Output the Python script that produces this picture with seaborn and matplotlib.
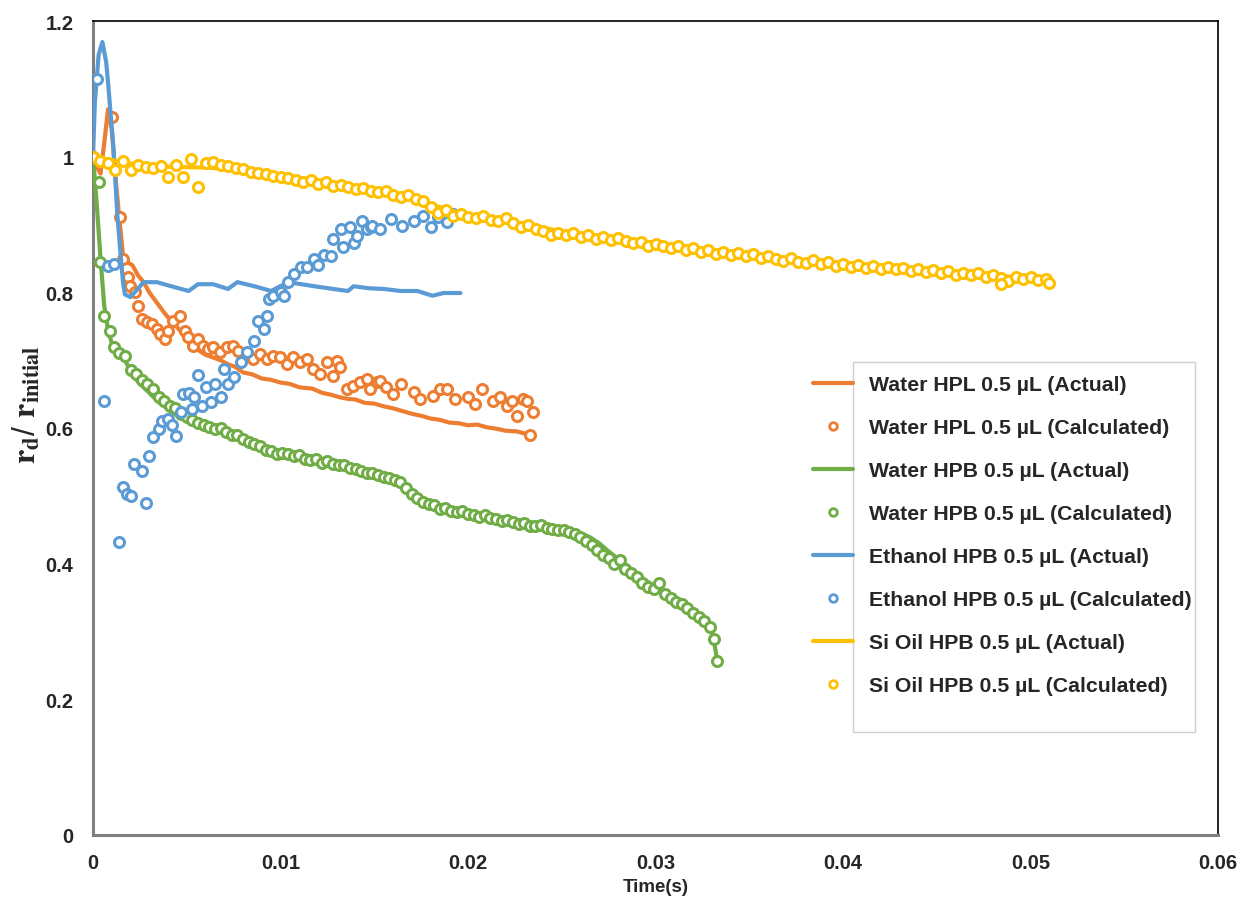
import numpy as np
import pandas as pd
import matplotlib
matplotlib.use("Agg")
import matplotlib.pyplot as plt
from matplotlib.lines import Line2D
from matplotlib.patches import Rectangle
import seaborn as sns

sns.set_style("white")
plt.rcParams["font.family"] = ["Liberation Sans", "DejaVu Sans"]
plt.rcParams["mathtext.fontset"] = "stix"

# ---------------- data ----------------
# Water HPL 0.5 uL (Actual)
hpl_act_t = [0, 0.0002, 0.0004, 0.0006, 0.0008, 0.001, 0.0012, 0.0014, 0.0016, 0.0018, 0.0021, 0.0024, 0.0027,
             0.003, 0.0034, 0.0038, 0.0041, 0.0045, 0.0049, 0.0052, 0.0056, 0.006, 0.0064, 0.0068, 0.0072,
             0.0076, 0.008, 0.0085, 0.009, 0.0095, 0.01, 0.0105, 0.011, 0.0117, 0.0122, 0.0127, 0.0132,
             0.0136, 0.014, 0.0145, 0.015, 0.0155, 0.016, 0.0165, 0.017, 0.0175, 0.018, 0.0185, 0.019,
             0.0195, 0.02, 0.0205, 0.021, 0.0215, 0.022, 0.0226, 0.023, 0.0233]
hpl_act_y = [1.0, 0.985, 0.975, 1.02, 1.07, 1.04, 0.97, 0.91, 0.855, 0.845, 0.84, 0.825, 0.815,
             0.8, 0.785, 0.77, 0.76, 0.748, 0.735, 0.722, 0.715, 0.708, 0.704, 0.7, 0.694,
             0.69, 0.682, 0.679, 0.673, 0.671, 0.667, 0.665, 0.66, 0.658, 0.652, 0.649, 0.645,
             0.643, 0.642, 0.637, 0.636, 0.632, 0.629, 0.625, 0.621, 0.618, 0.614, 0.612, 0.608,
             0.607, 0.604, 0.605, 0.601, 0.599, 0.596, 0.595, 0.592, 0.59]

# Water HPL 0.5 uL (Calculated)
hpl_calc_t = [0, 0.001, 0.00144, 0.0016, 0.00187, 0.00198, 0.00224, 0.0024, 0.00262, 0.00288, 0.00315,
              0.00342, 0.00358, 0.00384, 0.004, 0.00427, 0.00464, 0.00491, 0.00507, 0.00534, 0.0056,
              0.00587, 0.00614, 0.0064, 0.00678, 0.00715, 0.00747, 0.00774, 0.00822, 0.00854, 0.00891,
              0.00929, 0.00961, 0.00998, 0.01036, 0.01068, 0.01105, 0.01142, 0.01174, 0.01212, 0.01249,
              0.01281, 0.01303, 0.01319, 0.01356, 0.01388, 0.01425, 0.01463, 0.01479, 0.01516, 0.01532,
              0.01564, 0.016, 0.0164, 0.0171, 0.01746, 0.01815, 0.01852, 0.0189, 0.01932, 0.02, 0.02039,
              0.02077, 0.02135, 0.02173, 0.0221, 0.02237, 0.02263, 0.02295, 0.02317, 0.02349, 0.0233]
hpl_calc_y = [1.0, 1.058, 0.911, 0.849, 0.823, 0.81, 0.80, 0.78, 0.761, 0.757, 0.754,
              0.746, 0.739, 0.731, 0.743, 0.758, 0.765, 0.743, 0.734, 0.721, 0.731,
              0.721, 0.717, 0.72, 0.712, 0.72, 0.721, 0.713, 0.706, 0.702, 0.709,
              0.702, 0.706, 0.705, 0.694, 0.705, 0.697, 0.702, 0.687, 0.68, 0.697,
              0.677, 0.699, 0.69, 0.657, 0.662, 0.668, 0.672, 0.657, 0.668, 0.669,
              0.66, 0.65, 0.665, 0.653, 0.643, 0.647, 0.657, 0.657, 0.643, 0.646, 0.635,
              0.657, 0.64, 0.646, 0.632, 0.64, 0.617, 0.643, 0.64, 0.623, 0.59]

# Water HPB 0.5 uL (Actual)
hpb_act_t = [0, 0.0002, 0.0004, 0.0006, 0.0008, 0.001, 0.0013, 0.0016, 0.0019, 0.0022, 0.0025, 0.003,
             0.0035, 0.004, 0.0045, 0.005, 0.006, 0.007, 0.008, 0.009, 0.01, 0.011, 0.012, 0.013, 0.014,
             0.015, 0.016, 0.0165, 0.017, 0.0175, 0.018, 0.019, 0.02, 0.021, 0.022, 0.023, 0.024, 0.025,
             0.026, 0.0265, 0.027, 0.0275, 0.028, 0.0285, 0.029, 0.0295, 0.03, 0.0305, 0.031, 0.0315,
             0.032, 0.0325, 0.0329, 0.0331, 0.0333]
hpb_act_y = [1.0, 0.93, 0.85, 0.78, 0.745, 0.725, 0.712, 0.705, 0.69, 0.675, 0.665, 0.652,
             0.638, 0.628, 0.618, 0.611, 0.602, 0.594, 0.584, 0.572, 0.564, 0.559, 0.553, 0.548, 0.542,
             0.534, 0.527, 0.521, 0.505, 0.492, 0.486, 0.479, 0.475, 0.471, 0.466, 0.462, 0.457, 0.451,
             0.445, 0.439, 0.43, 0.418, 0.407, 0.397, 0.385, 0.375, 0.365, 0.356, 0.347, 0.338,
             0.328, 0.318, 0.306, 0.289, 0.256]

# Water HPB 0.5 uL (Calculated)
hpb_calc_t_early = [0, 0.0003, 0.0004, 0.0006, 0.0009, 0.0011, 0.0014, 0.0017]
hpb_calc_y_early = [1.0, 0.963, 0.845, 0.765, 0.743, 0.72, 0.71, 0.706]
hpb_calc_t_start, hpb_calc_t_step = 0.002, 0.0003
hpb_calc_y_main = [0.686, 0.680, 0.671, 0.665, 0.657, 0.645, 0.640, 0.633, 0.629, 0.620,
                   0.616, 0.612, 0.607, 0.604, 0.602, 0.598, 0.600, 0.594, 0.590, 0.589,
                   0.584, 0.580, 0.577, 0.573, 0.568, 0.566, 0.562, 0.563, 0.561, 0.558,
                   0.560, 0.555, 0.553, 0.554, 0.549, 0.551, 0.547, 0.545, 0.546, 0.541,
                   0.540, 0.537, 0.533, 0.534, 0.530, 0.528, 0.527, 0.524, 0.520, 0.512,
                   0.503, 0.497, 0.491, 0.488, 0.486, 0.481, 0.482, 0.478, 0.476, 0.478,
                   0.473, 0.472, 0.469, 0.472, 0.467, 0.466, 0.463, 0.464, 0.461, 0.459,
                   0.460, 0.456, 0.455, 0.457, 0.452, 0.451, 0.449, 0.450, 0.447, 0.444,
                   0.440, 0.434, 0.428, 0.420, 0.413, 0.408, 0.400, 0.405, 0.392, 0.386,
                   0.380, 0.372, 0.366, 0.362, 0.372, 0.355, 0.349, 0.344, 0.340, 0.334,
                   0.328, 0.321, 0.316]
hpb_calc_t_late = [0.0329, 0.0331, 0.0333]
hpb_calc_y_late = [0.306, 0.289, 0.256]

# Ethanol HPB 0.5 uL (Actual)
eth_act_t = [0, 0.0001, 0.0003, 0.0005, 0.0007, 0.0008, 0.0011, 0.0013, 0.0016, 0.0017, 0.002, 0.0027,
             0.0034, 0.0043, 0.0051, 0.0056, 0.0064, 0.0072, 0.0077, 0.0086, 0.0095, 0.0104, 0.0118,
             0.0128, 0.0136, 0.0139, 0.0147, 0.0155, 0.0164, 0.0173, 0.0181, 0.0187, 0.0191, 0.0196]
eth_act_y = [1.0, 1.08, 1.15, 1.169, 1.14, 1.11, 1.01, 0.913, 0.815, 0.797, 0.793, 0.815,
             0.815, 0.808, 0.802, 0.812, 0.812, 0.805, 0.815, 0.809, 0.802, 0.815, 0.809,
             0.805, 0.802, 0.809, 0.806, 0.805, 0.802, 0.802, 0.795, 0.799, 0.799, 0.799]

# Ethanol HPB 0.5 uL (Calculated)
eth_calc_t = [0.0002, 0.0006, 0.0008, 0.0011, 0.0014, 0.0016, 0.0018, 0.002, 0.0022, 0.0026, 0.0028,
              0.003, 0.0032, 0.0035, 0.0037, 0.004, 0.0042, 0.0044, 0.0047, 0.0048, 0.0051, 0.0053,
              0.0054, 0.0056, 0.0058, 0.006, 0.0063, 0.0065, 0.0068, 0.007, 0.0072, 0.0075, 0.0079,
              0.0082, 0.0086, 0.0088, 0.0091, 0.0093, 0.0094, 0.0096, 0.01, 0.0102, 0.0104, 0.0107,
              0.0111, 0.0114, 0.0118, 0.012, 0.0123, 0.0127, 0.0128, 0.0132, 0.01335, 0.0137, 0.0139,
              0.0141, 0.01436, 0.0146, 0.0148, 0.0149, 0.0153, 0.0159, 0.0165, 0.0171, 0.0176, 0.018,
              0.0184, 0.0189, 0.0192]
eth_calc_y = [1.115, 0.64, 0.839, 0.842, 0.432, 0.513, 0.503, 0.50, 0.547, 0.537, 0.49,
              0.558, 0.586, 0.598, 0.61, 0.613, 0.605, 0.588, 0.623, 0.65, 0.652, 0.628,
              0.645, 0.678, 0.632, 0.66, 0.638, 0.665, 0.645, 0.687, 0.665, 0.675, 0.697,
              0.712, 0.728, 0.758, 0.746, 0.765, 0.79, 0.795, 0.80, 0.795, 0.815, 0.827,
              0.837, 0.838, 0.849, 0.84, 0.855, 0.854, 0.879, 0.893, 0.867, 0.896, 0.872,
              0.883, 0.905, 0.893, 0.896, 0.898, 0.893, 0.908, 0.898, 0.905, 0.913, 0.896,
              0.911, 0.904, 0.915]

# Si Oil HPB 0.5 uL (Actual)
oil_act_t = [0, 0.002, 0.004, 0.006, 0.008, 0.01, 0.012, 0.014, 0.016, 0.018, 0.02, 0.022, 0.024,
             0.026, 0.028, 0.03, 0.032, 0.034, 0.036, 0.038, 0.04, 0.042, 0.044, 0.046, 0.048, 0.05, 0.051]
oil_act_y = [1.0, 0.99, 0.985, 0.984, 0.98, 0.972, 0.964, 0.956, 0.946, 0.93, 0.913, 0.906, 0.895,
             0.885, 0.88, 0.873, 0.866, 0.86, 0.853, 0.847, 0.842, 0.837, 0.832, 0.828, 0.824, 0.822, 0.82]

# Si Oil HPB 0.5 uL (Calculated)
oil_calc_t_start, oil_calc_t_step = 0.0, 0.0004
oil_calc_y = [1.000, 0.993, 0.990, 0.980, 0.994, 0.980, 0.988, 0.985, 0.984, 0.986,
              0.970, 0.987, 0.970, 0.997, 0.955, 0.990, 0.992, 0.988, 0.986, 0.983,
              0.982, 0.978, 0.976, 0.974, 0.972, 0.970, 0.968, 0.966, 0.963, 0.965,
              0.960, 0.962, 0.957, 0.958, 0.955, 0.952, 0.954, 0.950, 0.948, 0.949,
              0.944, 0.941, 0.943, 0.937, 0.934, 0.926, 0.917, 0.922, 0.913, 0.915,
              0.911, 0.909, 0.912, 0.907, 0.905, 0.909, 0.902, 0.896, 0.900, 0.893,
              0.890, 0.885, 0.888, 0.884, 0.887, 0.881, 0.884, 0.879, 0.882, 0.877,
              0.880, 0.876, 0.872, 0.874, 0.868, 0.871, 0.868, 0.866, 0.869, 0.863,
              0.866, 0.860, 0.862, 0.857, 0.860, 0.855, 0.858, 0.853, 0.856, 0.850,
              0.853, 0.849, 0.846, 0.850, 0.845, 0.843, 0.847, 0.842, 0.844, 0.839,
              0.842, 0.838, 0.840, 0.836, 0.839, 0.835, 0.838, 0.834, 0.836, 0.832,
              0.835, 0.830, 0.833, 0.828, 0.831, 0.826, 0.829, 0.825, 0.828, 0.823,
              0.826, 0.821, 0.816, 0.822, 0.819, 0.823, 0.818, 0.820]
oil_calc_t_extra = [0.0484, 0.0510]
oil_calc_y_extra = [0.812, 0.814]

labels = ["Water HPL 0.5 µL (Actual)", "Water HPL 0.5 µL (Calculated)",
          "Water HPB 0.5 µL (Actual)", "Water HPB 0.5 µL (Calculated)",
          "Ethanol HPB 0.5 µL (Actual)", "Ethanol HPB 0.5 µL (Calculated)",
          "Si Oil HPB 0.5 µL (Actual)", "Si Oil HPB 0.5 µL (Calculated)"]
colors = ["#ED7D31", "#70AD47", "#5B9BD5", "#FFC000"]

# ---------------- assemble ----------------
hpb_calc_t = list(hpb_calc_t_early) + list(hpb_calc_t_start + hpb_calc_t_step * np.arange(len(hpb_calc_y_main))) + hpb_calc_t_late
hpb_calc_y = hpb_calc_y_early + hpb_calc_y_main + hpb_calc_y_late
oil_t = list(oil_calc_t_start + oil_calc_t_step * np.arange(len(oil_calc_y))) + oil_calc_t_extra
oil_y = oil_calc_y + oil_calc_y_extra

series = [
    (hpl_act_t, hpl_act_y, colors[0], "line"),
    (hpl_calc_t, hpl_calc_y, colors[0], "pts"),
    (hpb_act_t, hpb_act_y, colors[1], "line"),
    (hpb_calc_t, hpb_calc_y, colors[1], "pts"),
    (eth_act_t, eth_act_y, colors[2], "line"),
    (eth_calc_t, eth_calc_y, colors[2], "pts"),
    (oil_act_t, oil_act_y, colors[3], "line"),
    (oil_t, oil_y, colors[3], "pts"),
]

W, H = 1237, 903
fig = plt.figure(figsize=(W / 100, H / 100), dpi=100)
ax = fig.add_axes([93 / W, 1 - 836 / H, (1218 - 93) / W, (836 - 22) / H])

for i, (t, y, c, kind) in enumerate(series):
    df = pd.DataFrame({"t": t, "y": y})
    if kind == "line":
        sns.lineplot(data=df, x="t", y="y", ax=ax, sort=False, estimator=None,
                     color=c, linewidth=3.0, zorder=2 + i, solid_capstyle="round")
    else:
        sns.lineplot(data=df, x="t", y="y", ax=ax, sort=False, estimator=None,
                     color=c, linestyle="", marker="o", markersize=7.2,
                     markerfacecolor="white", markeredgecolor=c, markeredgewidth=2.2,
                     zorder=2 + i)

ax.set_xlim(0, 0.06)
ax.set_ylim(0, 1.2)
ax.set_xticks([0, 0.01, 0.02, 0.03, 0.04, 0.05, 0.06])
ax.set_xticklabels(["0", "0.01", "0.02", "0.03", "0.04", "0.05", "0.06"])
ax.set_yticks([0, 0.2, 0.4, 0.6, 0.8, 1.0, 1.2])
ax.set_yticklabels(["0", "0.2", "0.4", "0.6", "0.8", "1", "1.2"])
ax.tick_params(axis="x", length=0, labelsize=14.5, pad=13)
ax.tick_params(axis="y", length=0, labelsize=14.5, pad=14)
for lab in ax.get_xticklabels() + ax.get_yticklabels():
    lab.set_fontweight("bold")

for s in ["top", "right"]:
    ax.spines[s].set_color("black")
    ax.spines[s].set_linewidth(1.2)
for s in ["left", "bottom"]:
    ax.spines[s].set_color("#7f7f7f")
    ax.spines[s].set_linewidth(2.2)

ax.set_xlabel("Time(s)", fontsize=13.5, fontweight="bold", labelpad=4)
ax.set_ylabel(r"$\mathbf{r_d}$/ $\mathbf{r_{initial}}$", fontsize=23)
ax.yaxis.set_label_coords(-0.045, 0.53)
if ax.get_legend():
    ax.get_legend().remove()

# legend
handles = []
for i, c in enumerate(colors):
    handles.append(Line2D([], [], color=c, linewidth=3.0))
    handles.append(Line2D([], [], color=c, linestyle="", marker="o", markersize=5.5,
                          markerfacecolor="white", markeredgecolor=c, markeredgewidth=2.0))
leg = fig.legend(handles, labels, loc="upper left", bbox_to_anchor=(813 / W, 1 - 376 / H),
                 frameon=False, prop={"size": 15.3, "weight": "bold"},
                 borderpad=0, borderaxespad=0,
                 handlelength=1.9, handletextpad=0.72, labelspacing=1.13)
fig.add_artist(Rectangle((853 / W, 1 - 733 / H), (1195 - 853) / W, (733 - 363) / H,
                         transform=fig.transFigure, fill=False, edgecolor="#d0d0d0",
                         linewidth=1.0))

fig.savefig("out.png", dpi=100)
